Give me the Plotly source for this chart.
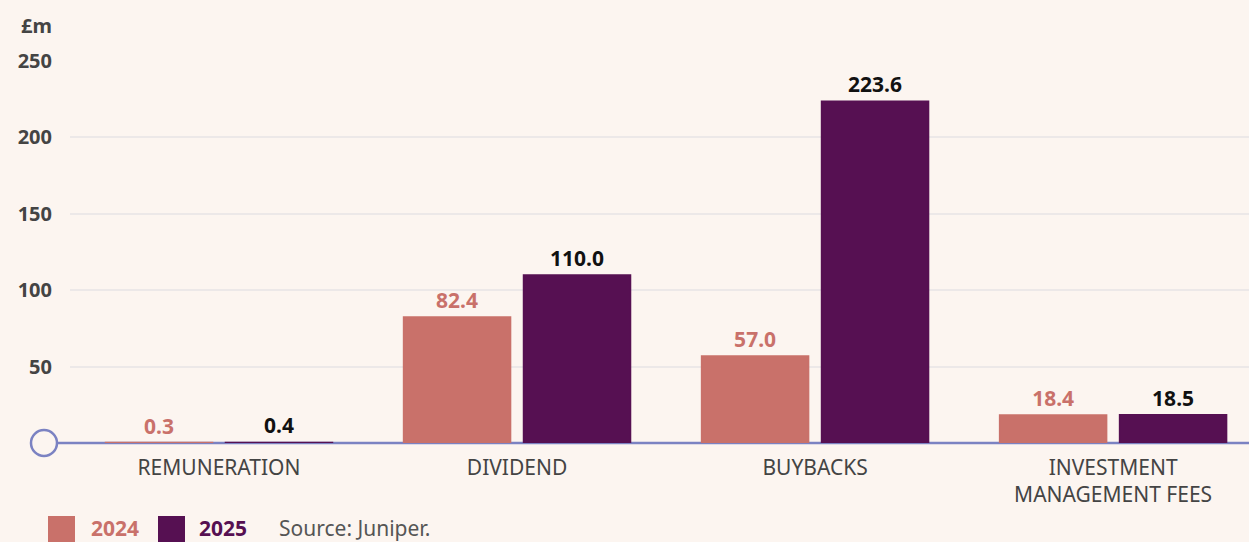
import plotly.graph_objects as go

categories = ["REMUNERATION", "DIVIDEND", "BUYBACKS", "INVESTMENT<br>MANAGEMENT FEES"]
values_2024 = [0.3, 82.4, 57.0, 18.4]
values_2025 = [0.4, 110.0, 223.6, 18.5]
tick_vals = [50, 100, 150, 200, 250]
tick_text = ["50", "100", "150", "200", "250"]

BG = "#fcf5f0"
C24 = "#c9716a"
C25 = "#561052"
AXIS = "#7b82c2"
FONT = "Noto Sans"

fig = go.Figure()
fig.add_trace(go.Bar(
    x=categories, y=values_2024, name="2024",
    marker=dict(color=C24, line=dict(color=C24, width=1.5)),
    texttemplate="%{y:.1f}", textposition="outside",
    textfont=dict(family=FONT, size=21, color=C24, weight=700),
    cliponaxis=False,
))
fig.add_trace(go.Bar(
    x=categories, y=values_2025, name="2025",
    marker=dict(color=C25, line=dict(color=C25, width=1.5)),
    texttemplate="%{y:.1f}", textposition="outside",
    textfont=dict(family=FONT, size=21, color="#111111", weight=700),
    cliponaxis=False,
))

fig.update_layout(
    width=1249, height=542,
    paper_bgcolor=BG, plot_bgcolor=BG,
    margin=dict(l=70, r=0, t=61, b=99),
    barmode="group", bargap=0.195, bargroupgap=0.108,
    showlegend=False,
    font=dict(family=FONT, color="#444444"),
    xaxis=dict(
        range=[-0.5, 3.456], showgrid=False, showline=False, zeroline=False,
        tickfont=dict(family=FONT, size=21, color="#444444"),
        ticks="", ticklabelstandoff=10,
    ),
    yaxis=dict(
        range=[0, 250], tickvals=tick_vals, ticktext=tick_text,
        showgrid=True, gridcolor="#ece8e8", gridwidth=2,
        zeroline=False, showline=False, ticks="",
        tickfont=dict(family=FONT, size=20, color="#444444", weight=700),
        ticklabelstandoff=17,
    ),
    shapes=[
        dict(type="line", xref="paper", yref="paper", x0=-0.012, x1=1, y0=0, y1=0,
             line=dict(color=AXIS, width=2.5), layer="below"),
        dict(type="circle", xref="paper", yref="paper",
             x0=(31 - 70) / 1179, x1=(57 - 70) / 1179,
             y0=-13 / 382, y1=13 / 382,
             line=dict(color=AXIS, width=2.5), fillcolor=BG, layer="above"),
        dict(type="rect", xref="paper", yref="paper",
             x0=(48 - 70) / 1179, x1=(75 - 70) / 1179,
             y0=-(545 - 443) / 382, y1=-(516 - 443) / 382,
             line=dict(width=0), fillcolor=C24),
        dict(type="rect", xref="paper", yref="paper",
             x0=(158 - 70) / 1179, x1=(185 - 70) / 1179,
             y0=-(545 - 443) / 382, y1=-(516 - 443) / 382,
             line=dict(width=0), fillcolor=C25),
    ],
    annotations=[
        dict(text="<b>£m</b>", xref="paper", yref="paper", x=(54 - 70) / 1179, y=(443 - 25) / 382,
             xanchor="right", yanchor="middle", showarrow=False,
             font=dict(family=FONT, size=20, color="#444444")),
        dict(text="<b>2024</b>", xref="paper", yref="paper", x=(89 - 70) / 1179,
             y=-(528 - 443) / 382, xanchor="left", yanchor="middle", showarrow=False,
             font=dict(family=FONT, size=21, color=C24)),
        dict(text="<b>2025</b>", xref="paper", yref="paper", x=(197 - 70) / 1179,
             y=-(528 - 443) / 382, xanchor="left", yanchor="middle", showarrow=False,
             font=dict(family=FONT, size=21, color=C25)),
        dict(text="Source: Juniper.", xref="paper", yref="paper", x=(277 - 70) / 1179,
             y=-(528 - 443) / 382, xanchor="left", yanchor="middle", showarrow=False,
             font=dict(family=FONT, size=21, color="#555555")),
    ],
)

fig.write_html(
    "out.html",
    config={"displayModeBar": False},
    post_script=(
        "document.documentElement.style.margin='0';"
        "document.body.style.margin='0';"
        "document.body.style.overflow='hidden';"
        "document.body.style.background='" + BG + "';"
    ),
)
